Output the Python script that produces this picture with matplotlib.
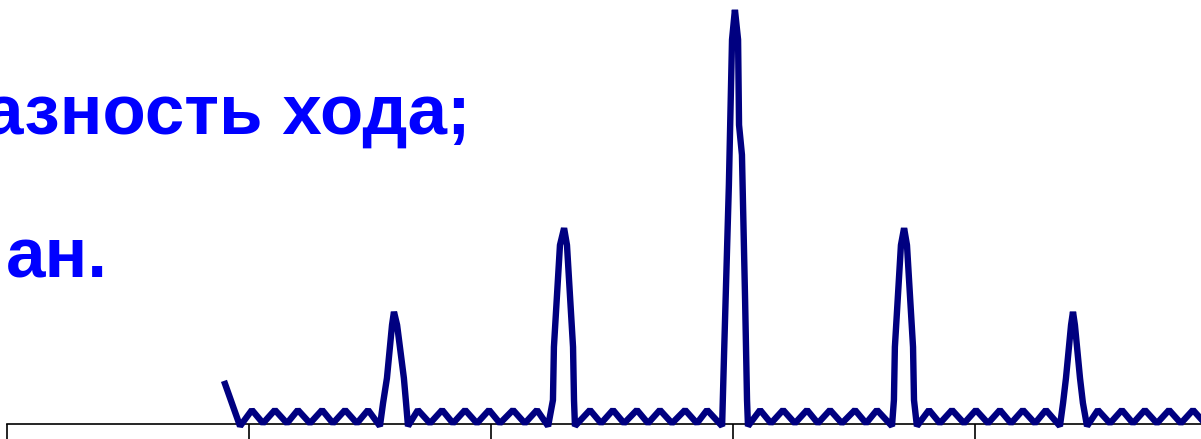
import matplotlib
matplotlib.use("Agg")
import matplotlib.pyplot as plt

# intensity pattern of the grating, x in tick units, intensity relative to the main peak
x_vals = [-2.099, -2.037,
          -1.988, -1.942, -1.893, -1.843, -1.798, -1.748, -1.698, -1.653, -1.603, -1.554, -1.508,
          -1.459, -1.446, -1.430, -1.409, -1.401, -1.388, -1.360, -1.351, -1.343,
          -1.302, -1.252, -1.202, -1.157, -1.107, -1.058, -1.008, -0.963, -0.909, -0.860, -0.810,
          -0.764, -0.744, -0.740, -0.715, -0.698, -0.686, -0.661, -0.657, -0.653,
          -0.591, -0.545, -0.496, -0.450, -0.397, -0.351, -0.302, -0.252, -0.198, -0.149, -0.107,
          -0.045, -0.037, -0.017, -0.004, 0.008, 0.021, 0.025, 0.037, 0.050, 0.058, 0.062,
          0.112, 0.157, 0.207, 0.256, 0.306, 0.351, 0.401, 0.450, 0.504, 0.550, 0.595,
          0.657, 0.665, 0.669, 0.694, 0.707, 0.719, 0.744, 0.748, 0.760,
          0.810, 0.855, 0.905, 0.955, 1.004, 1.054, 1.103, 1.149, 1.198, 1.248, 1.293,
          1.351, 1.364, 1.376, 1.397, 1.405, 1.413, 1.434, 1.446, 1.463,
          1.508, 1.558, 1.607, 1.653, 1.702, 1.752, 1.802, 1.851, 1.901, 1.950]
y_vals = [0.097, -0.005,
          0.034, 0.002, 0.034, 0.002, 0.034, 0.002, 0.034, 0.002, 0.034, 0.002, 0.034,
          -0.005, 0.051, 0.111, 0.239, 0.271, 0.239, 0.111, 0.051, -0.005,
          0.034, 0.002, 0.034, 0.002, 0.034, 0.002, 0.034, 0.002, 0.034, 0.002, 0.034,
          -0.005, 0.058, 0.186, 0.432, 0.473, 0.432, 0.186, 0.058, -0.005,
          0.034, 0.002, 0.034, 0.002, 0.034, 0.002, 0.034, 0.002, 0.034, 0.002, 0.034,
          -0.005, 0.167, 0.577, 0.928, 1.000, 0.928, 0.722, 0.650, 0.300, 0.058, -0.005,
          0.034, 0.002, 0.034, 0.002, 0.034, 0.002, 0.034, 0.002, 0.034, 0.002, 0.034,
          -0.005, 0.058, 0.186, 0.432, 0.473, 0.432, 0.186, 0.058, -0.005,
          0.034, 0.002, 0.034, 0.002, 0.034, 0.002, 0.034, 0.002, 0.034, 0.002, 0.034,
          -0.005, 0.051, 0.111, 0.239, 0.271, 0.239, 0.111, 0.051, -0.005,
          0.034, 0.002, 0.034, 0.002, 0.034, 0.002, 0.034, 0.002, 0.034, 0.002]
tick_pos = [-3, -2, -1, 0, 1]
line1 = "азность хода;"
line2 = "ан."

fig = plt.figure(figsize=(12.01, 4.391), dpi=100)
ax = fig.add_axes([0, 0, 1, 1])

ax.plot(x_vals, y_vals, color="#000080", lw=4.6, solid_joinstyle="bevel", zorder=3)

for s in ["top", "right", "left"]:
    ax.spines[s].set_visible(False)
ax.spines["bottom"].set_position(("data", 0))
ax.spines["bottom"].set_bounds(-3, 2.5)
ax.spines["bottom"].set_linewidth(1.2)
ax.set_xticks(tick_pos)
ax.set_xticklabels([])
ax.set_yticks([])
ax.tick_params(axis="x", direction="out", length=14, width=1.2)
# limits after the ticks, so set_xticks does not widen the view
ax.set_xlim(-3.029, 1.934)
ax.set_ylim(-0.036, 1.024)

ax.text(-0.013, 0.695, line1, transform=ax.transAxes, fontsize=51, fontweight="bold",
        color="#0000FF", family="Liberation Sans", va="baseline", ha="left")
ax.text(0.005, 0.368, line2, transform=ax.transAxes, fontsize=51, fontweight="bold",
        color="#0000FF", family="Liberation Sans", va="baseline", ha="left")

fig.savefig("out.png", dpi=100)
